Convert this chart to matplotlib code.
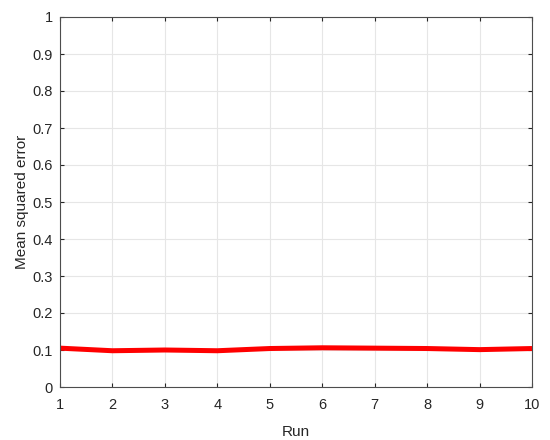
import matplotlib
matplotlib.use("Agg")
import matplotlib.pyplot as plt

plt.rcParams['font.family'] = ['Liberation Sans', 'DejaVu Sans']

runs = [1, 2, 3, 4, 5, 6, 7, 8, 9, 10]
mse = [0.105, 0.098, 0.100, 0.098, 0.104, 0.106, 0.105, 0.104, 0.101, 0.104]
y_ticks = [0, 0.1, 0.2, 0.3, 0.4, 0.5, 0.6, 0.7, 0.8, 0.9, 1]
y_labels = ['0', '0.1', '0.2', '0.3', '0.4', '0.5', '0.6', '0.7', '0.8', '0.9', '1']

fig = plt.figure(figsize=(5.5, 4.4), dpi=100)
ax = fig.add_axes([60 / 550, 53 / 440, 472 / 550, 370 / 440])

ax.plot(runs, mse, color='#ff0000', linewidth=3.6, solid_capstyle='butt')

ax.set_xlim(1, 10)
ax.set_ylim(0, 1)
ax.set_xticks(runs)
ax.set_yticks(y_ticks)
ax.set_yticklabels(y_labels)
ax.grid(True, color='#e6e6e6', linewidth=0.8)
ax.set_axisbelow(True)
for s in ax.spines.values():
    s.set_color('#4d4d4d')
    s.set_linewidth(0.8)
ax.tick_params(direction='in', length=3, colors='#262626', labelsize=10.5, pad=5)
ax.tick_params(axis='x', pad=8)
ax.tick_params(top=True, right=True)
ax.set_xlabel('Run', fontsize=11, color='#262626', labelpad=9)
ax.set_ylabel('Mean squared error', fontsize=11, color='#262626', labelpad=3)

fig.savefig('out.png', dpi=100)
